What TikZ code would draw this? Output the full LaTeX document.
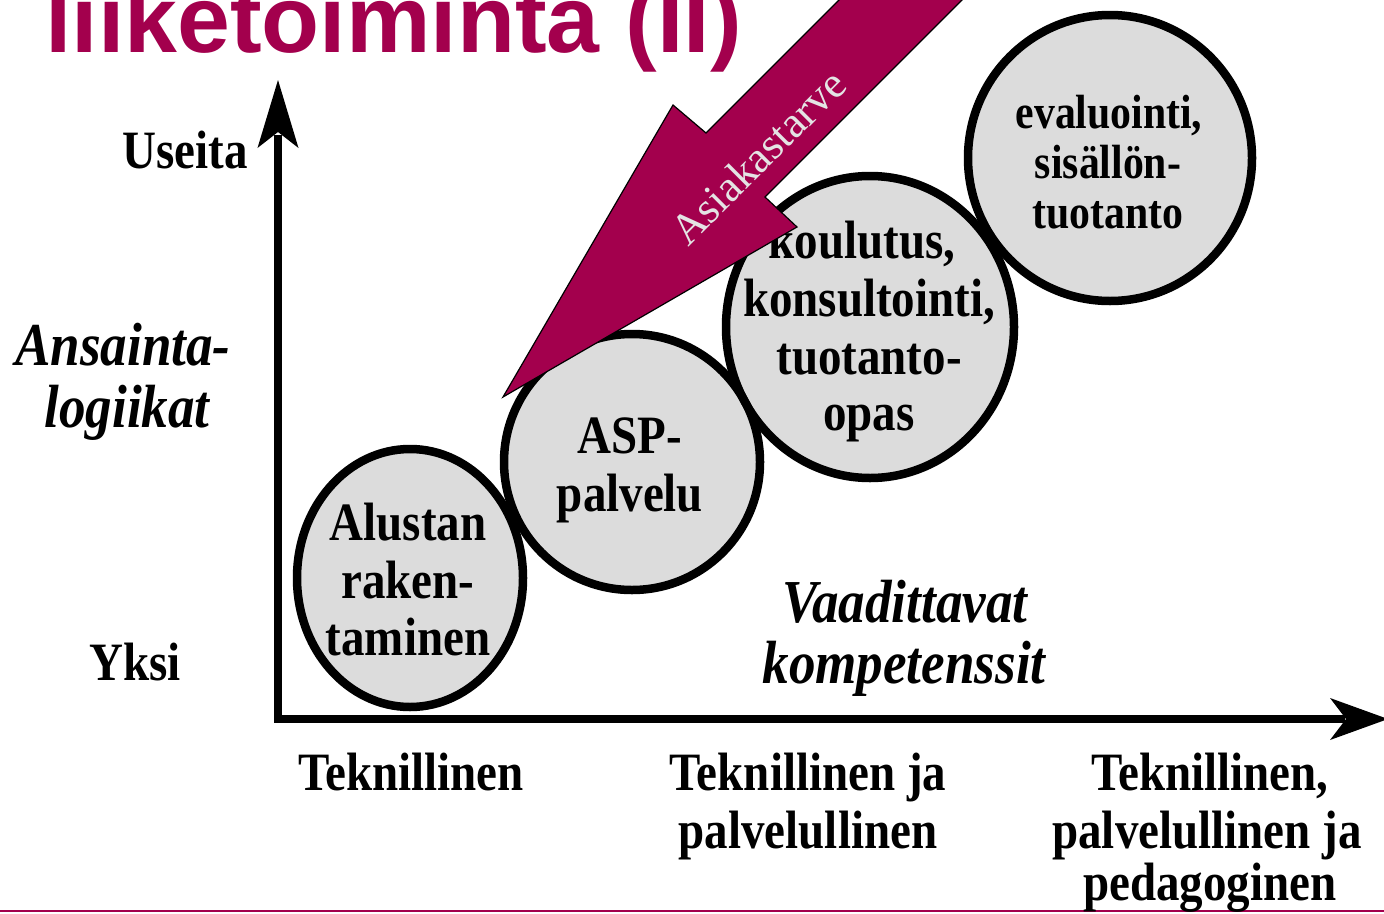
\documentclass[tikz,border=0pt]{standalone}
\usepackage{fontspec}
\setmainfont{Liberation Serif}[FakeStretch=0.87]
\newfontfamily\plainserif{Liberation Serif}
\newfontfamily\titlefont{Liberation Sans}
\usetikzlibrary{shapes.geometric}
\definecolor{wine}{RGB}{163,0,77}
\definecolor{disc}{RGB}{220,220,220}
\definecolor{pale}{RGB}{228,228,228}
\begin{document}
\begin{tikzpicture}[x=1pt,y=-1pt,
 lbl/.style={font=\fontsize{54}{58}\selectfont\bfseries, inner sep=0, anchor=base},
 small/.style={font=\fontsize{48}{50}\selectfont\bfseries, inner sep=0, anchor=base},
 ital/.style={font=\fontsize{61}{62}\selectfont\bfseries\itshape, inner sep=0, anchor=base},
 discfill/.style={ellipse, fill=disc, inner sep=0},
 rim/.style={line width=8.5pt},
 axisline/.style={line width=8pt, line join=miter},
 headfill/.style={fill=black},
 bigarrow/.style={fill=wine, draw=black, line width=1.2pt, line join=miter},
 ]
\clip (0,0) rectangle (1384,913);
\fill[white] (0,0) rectangle (1384,913);

% title
\node[anchor=base west, inner sep=0, text=wine, font=\titlefont\fontsize{95}{95}\selectfont\bfseries] (title) at (45,52) {liiketoiminta (II)};
\draw[wine, line width=2pt] (0,911) -- (1384,911);

% axes
\coordinate (O) at (278,719);
\coordinate (ytop) at (278,135);
\coordinate (xend) at (1345,719);
\coordinate (ytip) at (278,80);
\coordinate (xtip) at (1388,719);
\draw[axisline] (ytop) -- (O) -- (xend);
\fill[headfill] (ytip) -- (298.5,148) -- (278,132) -- (257.5,148) -- cycle;
\fill[headfill] (xtip) -- (1330,740) -- (1346,719) -- (1330,698) -- cycle;

% discs
\node[discfill, minimum width=284, minimum height=286] (c4) at (1110,158) {};
\node[discfill, minimum width=288, minimum height=302] (c3) at (870,327) {};
\node[discfill, minimum width=256, minimum height=256] (c2) at (632,462) {};
\node[discfill, minimum width=226, minimum height=258] (c1) at (410,578) {};
\draw[rim] (c4.center) ellipse[x radius=142, y radius=143];
\draw[rim] (c3.center) ellipse[x radius=144, y radius=151];
\draw[rim] (c2.center) ellipse[x radius=128, y radius=128];
\draw[rim] (c1.center) ellipse[x radius=113, y radius=129];

% disc texts
\node[lbl] (t1a) at (408,540) {Alustan};
\node[lbl] (t1b) at (408,598) {raken-};
\node[lbl] (t1c) at (408,655) {taminen};
\node[lbl] (t2a) at (630,453) {ASP-};
\node[lbl] (t2b) at (630,511) {palvelu};
\node[lbl] (t3a) at (862,258) {koulutus,};
\node[lbl] (t3b) at (869,316) {konsultointi,};
\node[lbl] (t3c) at (869,374) {tuotanto-};
\node[lbl] (t3d) at (869,430) {opas};
\node[small] (t4a) at (1109,128) {evaluointi,};
\node[small] (t4b) at (1108,178) {sisällön-};
\node[small] (t4c) at (1108,228) {tuotanto};

% big arrow
\draw[bigarrow] (859,-20) -- (706,133) -- (673,105) -- (503,397) -- (797,227) -- (765,197) -- (982,-20) -- cycle;
\node[rotate=45, inner sep=0, text=pale, font=\plainserif\fontsize{44}{44}\selectfont] (need) at (758,157) {Asiakastarve};

% axis labels
\node[lbl] (useita) at (185,168) {Useita};
\node[lbl] (yksi) at (135,680) {Yksi};
\node[ital] (ans1) at (123,365) {Ansainta-};
\node[ital] (ans2) at (127,427) {logiikat};
\node[ital] (vaa1) at (905,622) {Vaadittavat};
\node[ital] (vaa2) at (904,683) {kompetenssit};
\node[lbl] (x1) at (411,790) {Teknillinen};
\node[lbl] (x2a) at (808,790) {Teknillinen ja};
\node[lbl] (x2b) at (808,848) {palvelullinen};
\node[lbl] (x3a) at (1210,790) {Teknillinen,};
\node[lbl] (x3b) at (1207,848) {palvelullinen ja};
\node[lbl] (x3c) at (1210,900) {pedagoginen};
\end{tikzpicture}
\end{document}
